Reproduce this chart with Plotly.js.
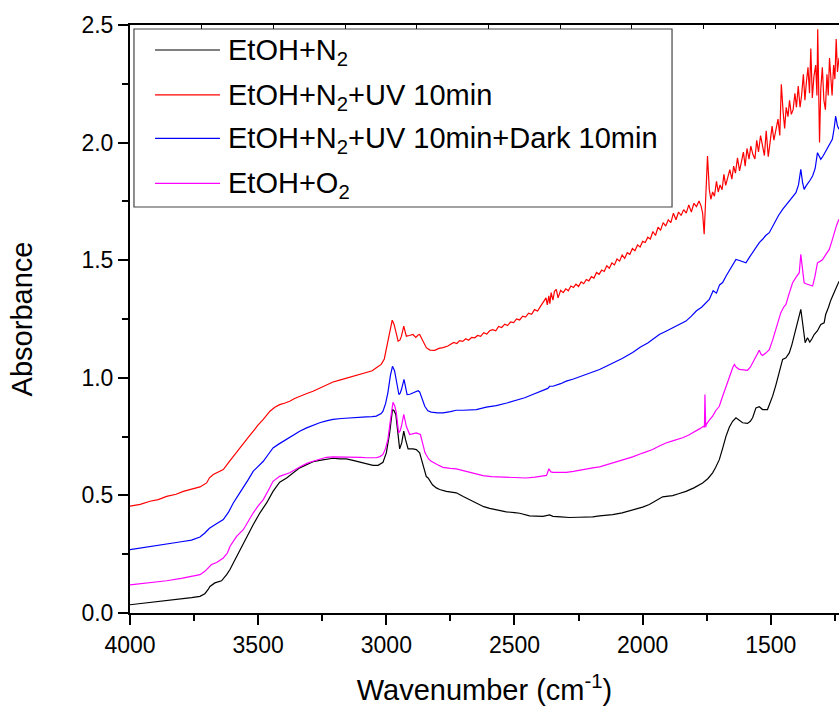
<!DOCTYPE html>
<html>
<head>
<meta charset="utf-8">
<script src="https://cdn.plot.ly/plotly-3.0.1.min.js"></script>
<style>html,body{margin:0;padding:0;background:#fff;}#chart{width:839px;height:706px;}</style>
</head>
<body>
<div id="chart"></div>
<script>
// ---- Data ----
var seriesNames = ["EtOH+N<sub>2</sub>", "EtOH+N<sub>2</sub>+UV 10min", "EtOH+N<sub>2</sub>+UV 10min+Dark 10min", "EtOH+O<sub>2</sub>"];
var seriesColors = ["#000000", "#ff0000", "#0000ff", "#ff00ff"];

var wnBlack = [4000,3960,3922,3890,3857,3820,3792,3760,3727,3708,3695,3688,3669,3643,3623,3610,3597,3571,3545,3519,3493,3467,3442,3416,3389,3364,3338,3311,3286,3260,3234,3208,3182,3156,3130,3104,3078,3052,3032,3013,3000,2987,2976,2970,2963,2954,2948,2940,2932,2925,2915,2896,2883,2870,2857,2844,2837,2820,2805,2792,2766,2740,2727,2700,2675,2649,2620,2597,2570,2532,2500,2480,2441,2400,2389,2363,2350,2320,2285,2250,2220,2195,2168,2117,2080,2039,2000,1974,1950,1930,1922,1900,1883,1860,1831,1800,1766,1745,1727,1715,1701,1688,1675,1662,1649,1636,1622,1610,1591,1580,1571,1558,1545,1538,1532,1513,1500,1493,1480,1474,1462,1454,1441,1428,1418,1409,1398,1389,1383,1378,1374,1366,1357,1348,1340,1331,1318,1305,1292,1286,1275,1266,1250,1234];
var absBlack = [0.035,0.040,0.045,0.048,0.052,0.056,0.061,0.065,0.071,0.082,0.100,0.113,0.128,0.137,0.163,0.185,0.213,0.269,0.326,0.376,0.426,0.468,0.517,0.556,0.574,0.596,0.617,0.631,0.643,0.649,0.655,0.658,0.655,0.655,0.649,0.643,0.634,0.628,0.628,0.641,0.681,0.766,0.865,0.860,0.844,0.737,0.698,0.723,0.773,0.737,0.698,0.698,0.695,0.681,0.624,0.580,0.574,0.545,0.532,0.525,0.517,0.513,0.511,0.495,0.482,0.468,0.452,0.445,0.438,0.430,0.427,0.424,0.413,0.411,0.411,0.417,0.411,0.409,0.406,0.407,0.408,0.409,0.413,0.418,0.426,0.437,0.450,0.461,0.476,0.490,0.494,0.497,0.499,0.507,0.517,0.532,0.553,0.572,0.596,0.620,0.652,0.700,0.751,0.790,0.815,0.830,0.820,0.809,0.806,0.815,0.830,0.872,0.877,0.868,0.865,0.865,0.900,0.922,0.970,0.993,1.045,1.078,1.085,1.106,1.140,1.177,1.220,1.262,1.291,1.250,1.220,1.149,1.170,1.152,1.165,1.184,1.200,1.227,1.234,1.269,1.300,1.330,1.370,1.410];

var wnRed = [4000,3960,3922,3890,3857,3820,3792,3760,3727,3701,3690,3675,3655,3636,3615,3597,3578,3558,3538,3519,3500,3480,3465,3454,3435,3416,3395,3377,3358,3338,3310,3286,3260,3234,3208,3182,3156,3130,3104,3078,3055,3039,3020,3008,3000,2988,2977,2970,2963,2954,2947,2941,2932,2927,2922,2910,2896,2885,2876,2870,2857,2844,2830,2811,2795,2779,
  2760,2748,2737,2725,2714,2702,2690,2679,2667,2655,2644,2632,2620,2608,2597,2585,2573,2562,2550,2538,2527,2515,2503,2492,2480,2468,2457,2445,2433,2422,2410,2398,
  2385,2377,2372,2366,2362,2357,2350,2344,2337,2330,2320,2310,
  2300,2290,2280,2270,2260,2250,2240,2230,2220,2210,2200,2190,2180,2170,2160,2150,2140,2130,2120,2110,2100,2090,2080,2070,2060,2050,2040,2030,2020,2010,2000,1990,1980,1970,1960,1950,1940,1930,1920,1910,1900,1890,1880,1870,1860,1850,1840,1830,1820,1810,1800,1790,1780,1772,1766,1760,1747,
  1740,1734,1727,1720,1712,1705,1698,1690,1683,1676,1668,1660,1652,1645,1638,1630,1622,1615,1607,1600,1593,1585,1578,1570,1562,1555,1548,1540,1532,1525,1518,1510,1503,1495,1488,1480,1472,1465,1459,1452,1446,1440,1433,1427,1420,1413,1406,1400,1393,1386,1380,1373,1367,1361,1355,1349,1344,1338,1332,1325,1320,1317,1313,1310,1305,1299,1293,1287,1281,1276,1271,1266,1261,1255,1250,1245,1240,1234];
var absRed = [0.454,0.462,0.475,0.482,0.496,0.505,0.517,0.525,0.536,0.553,0.575,0.589,0.598,0.610,0.640,0.666,0.695,0.723,0.748,0.773,0.800,0.823,0.845,0.858,0.875,0.886,0.893,0.900,0.912,0.922,0.933,0.943,0.957,0.971,0.982,0.990,0.998,1.004,1.012,1.021,1.030,1.043,1.057,1.080,1.120,1.190,1.245,1.228,1.198,1.156,1.160,1.177,1.220,1.200,1.177,1.180,1.184,1.172,1.182,1.184,1.156,1.128,1.118,1.117,1.125,1.128,
  1.135,1.142,1.150,1.146,1.158,1.155,1.166,1.160,1.172,1.170,1.180,1.176,1.192,1.186,1.200,1.205,1.200,1.218,1.214,1.228,1.222,1.238,1.235,1.250,1.246,1.262,1.258,1.275,1.270,1.290,1.284,1.305,
  1.325,1.340,1.310,1.348,1.315,1.362,1.330,1.368,1.376,1.340,1.372,1.362,
  1.378,1.370,1.390,1.384,1.398,1.388,1.408,1.400,1.418,1.412,1.430,1.424,1.448,1.440,1.458,1.452,1.476,1.466,1.488,1.480,1.505,1.496,1.522,1.508,1.532,1.525,1.550,1.540,1.565,1.556,1.580,1.575,1.598,1.590,1.622,1.605,1.640,1.628,1.660,1.645,1.672,1.660,1.700,1.672,1.705,1.690,1.715,1.700,1.735,1.705,1.742,1.728,1.752,1.730,1.700,1.610,1.943,
  1.800,1.759,1.790,1.772,1.835,1.790,1.820,1.800,1.865,1.818,1.850,1.885,1.845,1.900,1.870,1.935,1.880,1.920,1.960,1.900,1.975,1.930,1.985,1.950,1.930,2.010,1.960,2.030,1.980,1.945,2.050,1.940,2.000,2.070,2.010,2.060,2.100,2.030,2.248,2.130,2.060,2.150,2.110,2.180,2.120,2.140,2.210,2.150,2.240,2.150,2.200,2.290,2.180,2.260,2.320,2.210,2.400,2.190,2.280,2.330,2.200,2.482,2.250,2.000,2.230,2.320,2.180,2.140,2.290,2.200,2.360,2.250,2.200,2.330,2.270,2.440,2.300,2.360];

var wnBlue = [4000,3950,3900,3857,3800,3760,3727,3708,3690,3675,3655,3636,3615,3597,3578,3558,3538,3519,3500,3480,3460,3442,3420,3402,3384,3364,3338,3311,3286,3260,3234,3208,3175,3143,3110,3078,3055,3039,3020,3013,3003,2994,2984,2976,2968,2961,2951,2946,2941,2931,2925,2919,2908,2896,2885,2876,2870,2864,2850,2838,2825,2800,2779,2750,2727,2700,2649,2610,2571,2530,2494,2460,2429,2395,2370,2363,2350,2320,2298,2270,2246,2234,2200,2168,2142,2110,2080,2039,2010,1980,1950,1935,1909,1880,1850,1831,1810,1790,1770,1755,1740,1725,1712,1700,1688,1675,1660,1650,1640,1636,1625,1615,1605,1597,1585,1571,1555,1545,1532,1520,1506,1495,1480,1470,1454,1440,1428,1415,1402,1392,1383,1376,1370,1363,1357,1347,1337,1327,1318,1311,1305,1295,1286,1272,1260,1253,1247,1240,1234];
var absBlue = [0.269,0.277,0.284,0.291,0.303,0.310,0.323,0.340,0.360,0.371,0.385,0.397,0.430,0.468,0.500,0.532,0.568,0.603,0.625,0.645,0.675,0.702,0.718,0.730,0.745,0.759,0.773,0.787,0.799,0.809,0.817,0.823,0.827,0.830,0.832,0.834,0.835,0.837,0.848,0.858,0.890,0.936,1.010,1.049,1.030,0.993,0.929,0.935,0.950,0.993,0.965,0.929,0.930,0.936,0.942,0.945,0.940,0.922,0.879,0.860,0.854,0.851,0.851,0.856,0.862,0.862,0.865,0.875,0.882,0.893,0.905,0.915,0.929,0.943,0.955,0.964,0.964,0.975,0.986,0.995,1.004,1.007,1.022,1.035,1.049,1.065,1.082,1.108,1.130,1.148,1.170,1.184,1.198,1.215,1.232,1.241,1.262,1.285,1.300,1.318,1.333,1.370,1.360,1.395,1.405,1.432,1.460,1.480,1.500,1.503,1.500,1.495,1.492,1.489,1.510,1.532,1.560,1.575,1.589,1.605,1.617,1.640,1.674,1.690,1.716,1.735,1.752,1.770,1.787,1.820,1.886,1.830,1.801,1.815,1.823,1.840,1.858,1.890,1.957,1.940,1.929,1.945,1.964,1.990,2.014,2.060,2.113,2.070,2.057];

var wnMagenta = [4000,3930,3857,3800,3760,3727,3708,3690,3682,3662,3636,3620,3610,3590,3584,3558,3540,3519,3500,3480,3460,3442,3416,3377,3338,3310,3286,3260,3234,3208,3182,3130,3100,3078,3039,3025,3013,3003,2994,2984,2974,2967,2961,2952,2946,2941,2932,2926,2922,2909,2895,2883,2867,2857,2849,2835,2825,2800,2779,2750,2727,2700,2675,2650,2623,2590,2559,2530,2494,2455,2420,2389,2375,2366,2358,2350,2320,2298,2270,2234,2195,2168,2140,2117,2080,2039,2000,1961,1935,1909,1880,1844,1820,1792,1775,1763,1759,1757,1754,1752,1740,1727,1715,1701,1690,1675,1660,1648,1642,1635,1623,1610,1591,1580,1571,1560,1550,1545,1538,1532,1520,1506,1493,1480,1470,1461,1450,1441,1428,1415,1400,1389,1383,1376,1370,1363,1357,1347,1337,1328,1318,1308,1298,1285,1272,1262,1253,1243,1234];
var absMagenta = [0.120,0.128,0.137,0.147,0.155,0.163,0.177,0.200,0.206,0.215,0.234,0.255,0.283,0.316,0.326,0.354,0.390,0.426,0.455,0.482,0.522,0.560,0.581,0.596,0.621,0.636,0.645,0.655,0.662,0.664,0.664,0.664,0.662,0.660,0.660,0.665,0.674,0.700,0.737,0.820,0.896,0.880,0.851,0.766,0.775,0.794,0.844,0.815,0.794,0.759,0.762,0.766,0.759,0.715,0.681,0.655,0.645,0.630,0.619,0.615,0.613,0.605,0.598,0.590,0.584,0.580,0.579,0.578,0.578,0.574,0.578,0.582,0.585,0.613,0.600,0.598,0.598,0.598,0.602,0.610,0.617,0.621,0.630,0.638,0.650,0.664,0.680,0.695,0.710,0.723,0.733,0.745,0.757,0.773,0.785,0.794,0.790,0.929,0.790,0.801,0.820,0.837,0.860,0.879,0.915,0.964,1.010,1.045,1.057,1.045,1.036,1.034,1.032,1.045,1.064,1.090,1.110,1.117,1.100,1.095,1.105,1.120,1.160,1.206,1.250,1.277,1.300,1.312,1.360,1.404,1.430,1.447,1.525,1.450,1.404,1.400,1.397,1.392,1.390,1.430,1.489,1.495,1.503,1.525,1.546,1.580,1.617,1.650,1.674];

var xTickVals = [4000, 3500, 3000, 2500, 2000, 1500];
var xRange = [4000, 1234];
var yRange = [0, 2.5];

// ---- Chart ----
var FONT = "Liberation Sans, Arial, Helvetica, sans-serif";
var xs = [wnBlack, wnRed, wnBlue, wnMagenta];
var ys = [absBlack, absRed, absBlue, absMagenta];
var traces = xs.map(function (x, i) {
  return {
    x: x, y: ys[i], type: "scatter", mode: "lines",
    name: seriesNames[i], showlegend: false,
    line: { color: seriesColors[i], width: 1.2 }
  };
});

// custom legend (box, line samples, labels) in paper coordinates
var legendRows = [0.9575, 0.881, 0.8073, 0.7308];
var shapes = [{
  type: "rect", xref: "paper", yref: "paper",
  x0: 0.0056, x1: 0.7645, y0: 0.6905, y1: 0.9932,
  line: { color: "#444", width: 1.2 }, fillcolor: "rgba(255,255,255,1)", layer: "above"
}];
var annotations = [];
legendRows.forEach(function (yy, i) {
  shapes.push({
    type: "line", xref: "paper", yref: "paper",
    x0: 0.0353, x1: 0.1269, y0: yy, y1: yy,
    line: { color: seriesColors[i], width: 1.2 }, layer: "above"
  });
  annotations.push({
    xref: "paper", yref: "paper", x: 0.1355, y: yy,
    xanchor: "left", yanchor: "middle", showarrow: false,
    text: seriesNames[i], font: { family: FONT, size: 29, color: "#000" }, yshift: -2
  });
});

var layout = {
  width: 839, height: 706,
  margin: { l: 130, r: 0, t: 25, b: 93 },
  paper_bgcolor: "#fff", plot_bgcolor: "#fff",
  font: { family: FONT, color: "#000" },
  showlegend: false,
  xaxis: {
    range: xRange, autorange: false,
    tickvals: xTickVals, ticktext: xTickVals.map(String),
    ticks: "outside", ticklen: 10, tickwidth: 2, tickcolor: "#000",
    minor: { dtick: 250, tick0: 0, ticks: "outside", ticklen: 6, tickwidth: 2, tickcolor: "#000" },
    showline: true, linewidth: 2, linecolor: "#000",
    showgrid: false, zeroline: false,
    tickfont: { family: FONT, size: 23, color: "#000" },
    title: { text: "Wavenumber (cm<sup>-1</sup>)", font: { family: FONT, size: 29, color: "#000" }, standoff: 23 }
  },
  xaxis2: {
    overlaying: "x", side: "top", anchor: "y",
    range: [0, 9.888], autorange: false, dtick: 1, tick0: 0,
    ticks: "inside", ticklen: 4, tickwidth: 1, tickcolor: "#000",
    showticklabels: false, showline: true, linewidth: 2, linecolor: "#000",
    showgrid: false, zeroline: false
  },
  yaxis: {
    range: yRange, autorange: false, dtick: 0.5, tick0: 0, tickformat: ".1f",
    ticks: "outside", ticklen: 10, tickwidth: 2, tickcolor: "#000",
    minor: { dtick: 0.25, tick0: 0, ticks: "outside", ticklen: 6, tickwidth: 2, tickcolor: "#000" },
    showline: true, linewidth: 2, linecolor: "#000",
    showgrid: false, zeroline: false,
    tickfont: { family: FONT, size: 23, color: "#000" },
    title: { text: "Absorbance", font: { family: FONT, size: 29, color: "#000" }, standoff: 40 }
  },
  shapes: shapes,
  annotations: annotations
};

// dummy trace to activate top axis
traces.push({ x: [0], y: [null], xaxis: "x2", yaxis: "y", type: "scatter", mode: "lines", showlegend: false, hoverinfo: "skip" });

Plotly.newPlot("chart", traces, layout, { displayModeBar: false, staticPlot: true });
</script>
</body>
</html>
